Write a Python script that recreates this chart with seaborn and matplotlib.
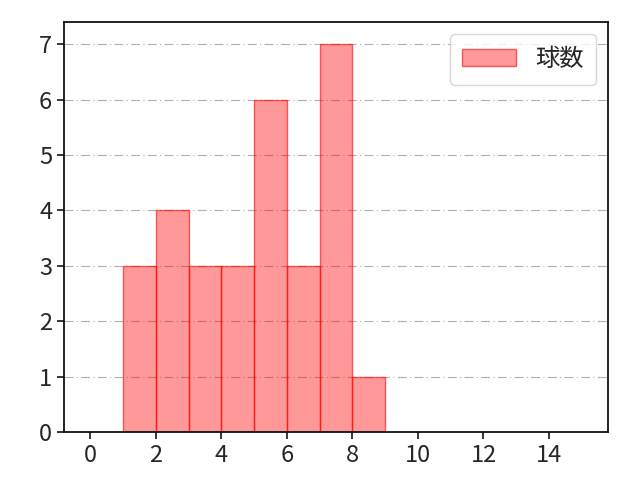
import matplotlib
matplotlib.use("Agg")
import matplotlib.pyplot as plt
import seaborn as sns
import numpy as np

sns.set_style("ticks")
plt.rcParams['font.family'] = ['Noto Sans CJK JP', 'DejaVu Sans']

bin_centers = [1.5, 2.5, 3.5, 4.5, 5.5, 6.5, 7.5, 8.5]
counts = [3, 4, 3, 3, 6, 3, 7, 1]
bin_edges = [1, 2, 3, 4, 5, 6, 7, 8, 9]
label = "球数"

fig, ax = plt.subplots(figsize=(6.4, 4.8), dpi=100)
sns.histplot(x=bin_centers, weights=counts, bins=bin_edges, ax=ax,
             color="red", alpha=0.4, edgecolor="red", linewidth=1,
             label=label)
for p in ax.patches:
    p.set_edgecolor((1, 0, 0, 0.6))
ax.set_xlim(-0.8, 15.8)
ax.set_ylim(0, 7.4)
ax.set_xticks(np.arange(0, 15, 2))
ax.set_ylabel("")
ax.set_xlabel("")
ax.grid(axis="y", linestyle=(0, (8, 3, 1, 3)), color="#b0b0b0", linewidth=0.8)
ax.set_axisbelow(True)
for s in ax.spines.values():
    s.set_linewidth(1.3)
    s.set_color("#111111")
ax.tick_params(labelsize=17, width=1.3, length=5)
ax.legend(loc="upper right", fontsize=17.5, handlelength=2.2, borderpad=0.5)
fig.subplots_adjust(left=0.1, right=0.95, bottom=0.1, top=0.954)
fig.savefig("out.png", dpi=100)
